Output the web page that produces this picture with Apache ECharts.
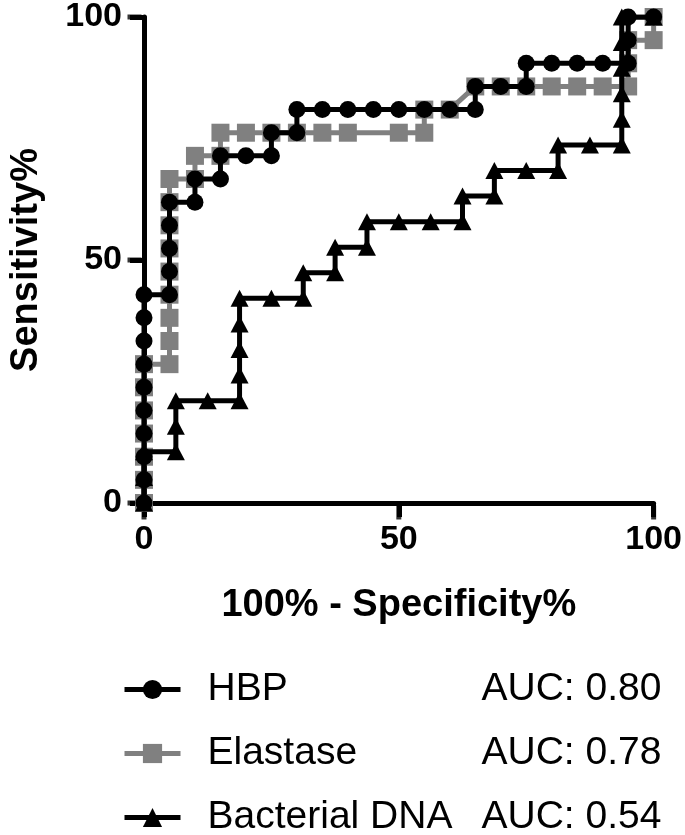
<!DOCTYPE html>
<html>
<head>
<meta charset="utf-8">
<script src="https://cdn.jsdelivr.net/npm/echarts@6/dist/echarts.min.js"></script>
<style>
html,body{margin:0;padding:0;background:#fff;}
#main{width:685px;height:835px;}
</style>
</head>
<body>
<div id="main"></div>
<script>
// ---- data (100% - Specificity%, Sensitivity%) ----
var hbpX = [0,0,0,0,0,0,0,0,0,0, 5,5,5,5,5, 10,10, 15,15, 20, 25,25, 30,30, 35,40,45,50,55,60,65, 65,70,75, 75,80,85,90,95, 95,95,100];
var hbpY = [0,4.76,9.52,14.29,19.05,23.81,28.57,33.33,38.10,42.86, 42.86,47.62,52.38,57.14,61.90, 61.90,66.67, 66.67,71.43, 71.43, 71.43,76.19, 76.19,80.95, 80.95,80.95,80.95,80.95,80.95,80.95,80.95, 85.71,85.71,85.71, 90.48,90.48,90.48,90.48,90.48, 95.24,100,100];

var elaX = [0,0,0,0,0,0,0, 5,5,5,5,5,5,5,5,5, 10,10, 15,15, 20,25,30,35,40,50,55, 55,60, 65,70,75,80,85,90,95, 95,95,100,100];
var elaY = [0,4.76,9.52,14.29,19.05,23.81,28.57, 28.57,33.33,38.10,42.86,47.62,52.38,57.14,61.90,66.67, 66.67,71.43, 71.43,76.19, 76.19,76.19,76.19,76.19,76.19,76.19,76.19, 80.95,80.95, 85.71,85.71,85.71,85.71,85.71,85.71,85.71, 90.48,95.24,95.24,100];

var dnaX = [0,0,0, 6.25,6.25,6.25, 12.5, 18.75,18.75,18.75,18.75,18.75, 25, 31.25,31.25, 37.5,37.5, 43.75,43.75, 50, 56.25, 62.5,62.5, 68.75,68.75, 75, 81.25,81.25, 87.5, 93.75,93.75,93.75,93.75,93.75,93.75, 100];
var dnaY = [0,5.26,10.53, 10.53,15.79,21.05, 21.05, 21.05,26.32,31.58,36.84,42.11, 42.11, 42.11,47.37, 47.37,52.63, 52.63,57.89, 57.89, 57.89, 57.89,63.16, 63.16,68.42, 68.42, 68.42,73.68, 73.68, 73.68,78.95,84.21,89.47,94.74,100, 100];

var seriesNames = ['HBP', 'Elastase', 'Bacterial DNA'];
var aucLabels = ['AUC: 0.80', 'AUC: 0.78', 'AUC: 0.54'];
var axisTicks = [0, 50, 100];

function pairs(xs, ys){ return xs.map(function(x,i){ return [x, ys[i]]; }); }

var FONT = '"Liberation Sans", Arial, Helvetica, sans-serif';
var TICK_LEN = 14;
var chart = echarts.init(document.getElementById('main'), null, {renderer:'canvas'});

function makeAxis(extra){
  var a = {
    type: 'value', min: axisTicks[0], max: axisTicks[2], interval: 50,
    splitLine: {show:false},
    axisLine: {show:true, onZero:false, lineStyle:{color:'#000', width:5}},
    axisTick: {show:true, inside:false, length:TICK_LEN, lineStyle:{color:'#000', width:5}},
    axisLabel: {show:true, color:'#000', fontSize:34, fontWeight:'bold', fontFamily:FONT},
    nameLocation: 'middle',
    nameTextStyle: {color:'#000', fontSize:38, fontWeight:'bold', fontFamily:FONT}
  };
  for (var k in extra) a[k] = extra[k];
  return a;
}

// outward tick marks drawn as symbols on the axes, positioned by the axis scales
var xTickMarks = axisTicks.map(function(v){ return [v, axisTicks[0]]; });
var yTickMarks = axisTicks.map(function(v){ return [axisTicks[0], v]; });

chart.setOption({
  animation: false,
  backgroundColor: '#fff',
  grid: {left:137, right:31, top:17, bottom:332, containLabel:false},
  xAxis: makeAxis({
    name: '100% - Specificity%', nameGap: 84,
    axisLabel: {show:true, color:'#000', fontSize:34, fontWeight:'bold', fontFamily:FONT, margin:20}
  }),
  yAxis: makeAxis({
    name: 'Sensitivity%', nameGap: 98, nameRotate: 90,
    axisLabel: {show:true, color:'#000', fontSize:34, fontWeight:'bold', fontFamily:FONT, margin:22}
  }),
  legend: {
    data: seriesNames,
    orient: 'vertical',
    left: 122, top: 670,
    padding: 0,
    height: 170,
    itemWidth: 56, itemHeight: 24,
    itemGap: 25,
    selectedMode: false,
    lineStyle: {width: 5},
    formatter: function(name){
      var i = seriesNames.indexOf(name);
      return '{a|' + name + '}{b|' + aucLabels[i] + '}';
    },
    textStyle: {
      color:'#000', fontFamily: FONT, fontSize: 39,
      rich: {
        a: {width: 274, padding:[0,0,0,22], fontSize:39, fontFamily:FONT, color:'#000', lineHeight:42},
        b: {fontSize:39, fontFamily:FONT, color:'#000', lineHeight:42}
      }
    }
  },
  series: [
    {
      name: 'xTicks', type: 'scatter', z: 1, clip: false, silent: true,
      data: xTickMarks, symbol: 'rect', symbolSize: [5, TICK_LEN],
      symbolOffset: [0, TICK_LEN/2 + 2.5],
      itemStyle: {color:'#000'}
    },
    {
      name: 'yTicks', type: 'scatter', z: 1, clip: false, silent: true,
      data: yTickMarks, symbol: 'rect', symbolSize: [TICK_LEN, 5],
      symbolOffset: [-(TICK_LEN/2 + 2.5), 0],
      itemStyle: {color:'#000'}
    },
    {
      name: 'Elastase', type: 'line', z: 2,
      data: pairs(elaX, elaY),
      symbol: 'rect', symbolSize: 18,
      itemStyle: {color:'#808080'},
      lineStyle: {color:'#808080', width:5}
    },
    {
      name: 'Bacterial DNA', type: 'line', z: 3,
      data: pairs(dnaX, dnaY),
      symbol: 'triangle', symbolSize: [18,17],
      itemStyle: {color:'#000'},
      lineStyle: {color:'#000', width:5}
    },
    {
      name: 'HBP', type: 'line', z: 4,
      data: pairs(hbpX, hbpY),
      symbol: 'circle', symbolSize: 17,
      itemStyle: {color:'#000'},
      lineStyle: {color:'#000', width:5}
    }
  ]
});
</script>
</body>
</html>
